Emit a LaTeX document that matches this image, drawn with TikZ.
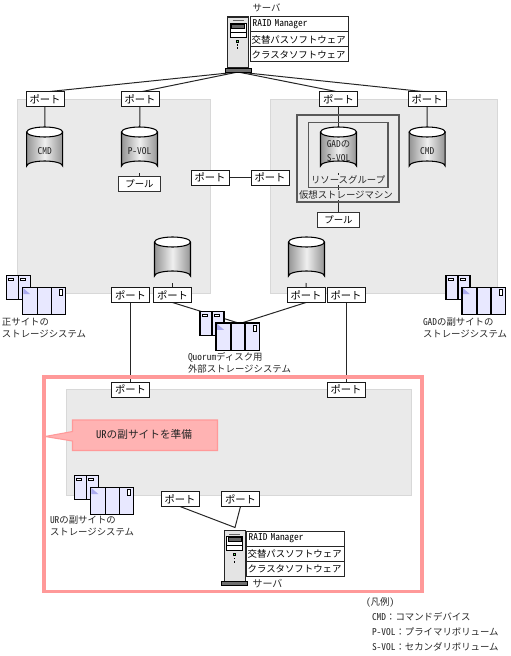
\documentclass[tikz,border=0pt]{standalone}
\usepackage{fontspec}
\setmainfont{Noto Sans CJK JP}
\newfontfamily\halffont[CharacterWidth=Half]{Noto Sans CJK JP}
\newcommand{\lat}[1]{{\halffont #1}}
\usetikzlibrary{backgrounds}
\definecolor{panelgray}{HTML}{EAEAEA}
\definecolor{paneledge}{HTML}{D8D8D8}
\definecolor{pinkedge}{HTML}{FF9999}
\definecolor{pinkfill}{HTML}{FFB3B3}
\definecolor{unitfill}{HTML}{E8E8FF}
\definecolor{unitmark}{HTML}{AAAAEE}
\definecolor{towerfill}{HTML}{E4E4E4}
\definecolor{basefill}{HTML}{707070}
\tikzset{
  every node/.style={font=\fontsize{7.05pt}{9pt}\selectfont,inner sep=0pt,outer sep=0pt},
  portbox/.style={draw=black!90,fill=white,line width=0.75pt,minimum width=28.5pt,minimum height=11.25pt,font=\fontsize{7.75pt}{9pt}\selectfont},
  poolbox/.style={draw=black!80,fill=white,line width=0.75pt,minimum width=31pt,minimum height=11.25pt},
  rowbox/.style={draw=black!85,fill=white,line width=0.75pt,minimum width=73.5pt,minimum height=11.25pt,anchor=north west,align=left,text width=71pt},
  label/.style={anchor=west,text=black!85},
  boxlabel/.style={label,fill=panelgray,text height=5.8pt,text depth=1pt},
  wire/.style={draw=black!85,line width=0.75pt},
  panel/.style={draw=paneledge,fill=panelgray,line width=0.75pt},
  groupbox/.style={draw=black!65,line width=1.1pt},
  cylbody/.style={minimum width=27pt,minimum height=33pt,align=center,text=black!85}
}
% cylinder: name, centre x, top y, text
\newcommand{\cylat}[4]{%
  \path[left color=black!42,right color=black!42,middle color=black!6]
    (#2-18,#3+5) -- (#2-18,#3+39) arc[start angle=180,end angle=360,x radius=18,y radius=5]
    -- (#2+18,#3+5) arc[start angle=0,end angle=180,x radius=18,y radius=5] -- cycle;
  \draw[black,line width=0.8pt,fill=white] (#2,#3+5) ellipse[x radius=18,y radius=5];
  \draw[black,line width=0.8pt] (#2-18,#3+5) -- (#2-18,#3+39) arc[start angle=180,end angle=360,x radius=18,y radius=5] -- (#2+18,#3+5);
  \node[cylbody] (#1) at (#2,#3+24) {#4};}
% server tower: name, left x, top y
\newcommand{\towerat}[3]{%
  \draw[black!85,fill=towerfill,line width=0.8pt] (#2,#3) rectangle (#2+21,#3+51);
  \draw[black!60,line width=0.6pt] (#2+5,#3+3.5) -- (#2+16,#3+3.5);
  \draw[black,fill=white,line width=0.6pt] (#2+2.5,#3+6) rectangle (#2+18.5,#3+20);
  \draw[black,fill=black!60,line width=0.5pt] (#2+4,#3+7) rectangle (#2+17,#3+11);
  \draw[black,line width=0.5pt] (#2+2.5,#3+15) -- (#2+18.5,#3+15);
  \draw[black,fill=green!60!white,line width=0.4pt] (#2+9,#3+23) rectangle (#2+11,#3+25);
  \fill[black] (#2+9.2,#3+27) rectangle (#2+10.8,#3+28.6);
  \fill[black] (#2+9.2,#3+30.4) rectangle (#2+10.8,#3+32);
  \node[draw=black,fill=basefill,line width=0.7pt,minimum width=19.5pt,minimum height=3pt] (#1) at (#2+10.5,#3+53) {};}
% storage: name, left x, top y
\newcommand{\storageat}[3]{%
  \draw[black,fill=unitfill,line width=0.8pt] (#2,#3) rectangle (#2+24,#3+24);
  \draw[black,line width=0.8pt] (#2+12,#3) -- (#2+12,#3+24);
  \draw[black,fill=white,line width=0.6pt] (#2+2,#3+3) rectangle (#2+7,#3+5);
  \draw[black,fill=white,line width=0.6pt] (#2+14,#3+3) rectangle (#2+19,#3+5);
  \node[draw=black,fill=unitfill,line width=0.8pt,minimum width=32.6pt,minimum height=20.4pt,anchor=north west] (#1) at (#2+16,#3+11.7) {};
  \fill[unitmark] (#2+17,#3+12.5) -- (#2+24,#3+18.5) -- (#2+17,#3+18.5) -- cycle;
  \draw[black,line width=0.8pt] (#2+31,#3+11.7) -- (#2+31,#3+39);
  \draw[black,line width=0.8pt] (#2+45,#3+11.7) -- (#2+45,#3+39);
  \draw[black,fill=white,line width=0.6pt] (#2+53,#3+14) rectangle (#2+56.5,#3+20);}
\begin{document}
\begin{tikzpicture}[x=0.75pt,y=-0.75pt]
\useasboundingbox (0,0) rectangle (510,656);
\begin{pgfonlayer}{background}
  \path[panel] (17,99.5) rectangle (210,293);
  \path[panel] (270.5,99.5) rectangle (497.5,293);
  \path[panel] (66,389) rectangle (411,495);
\end{pgfonlayer}

% top server
\towerat{srvtop}{227.5}{17}
\node[rowbox] (ra) at (250,17) {\hspace{0.75pt}\lat{RAID Manager}};
\node[rowbox] (rb) at (250,32) {交替パスソフトウェア};
\node[rowbox] (rc) at (250,47) {クラスタソフトウェア};
\node[label] (srvtoplbl) at (252.5,8) {サーバ};

% ports
\node[portbox] (p1) at (45,99.5) {ポート};
\node[portbox] (p2) at (140,99.5) {ポート};
\node[portbox] (p3) at (338.5,99.5) {ポート};
\node[portbox] (p4) at (427,99.5) {ポート};
\node[portbox] (pc1) at (210,177.5) {ポート};
\node[portbox] (pc2) at (270,177.5) {ポート};
\node[portbox] (p5) at (130.5,295) {ポート};
\node[portbox] (p6) at (172.5,295) {ポート};
\node[portbox] (p7) at (306,295) {ポート};
\node[portbox] (p8) at (346,295) {ポート};
\node[portbox] (p9) at (130.5,389.5) {ポート};
\node[portbox] (p10) at (346,389.5) {ポート};
\node[portbox] (p11) at (180,499) {ポート};
\node[portbox] (p12) at (240.5,499) {ポート};

% virtual storage boxes
\node[groupbox,minimum width=76.5pt,minimum height=65.25pt] (vsm) at (348,158.5) {};
\node[groupbox,minimum width=59.5pt,minimum height=48.75pt] (rg) at (348.2,155) {};
\node[boxlabel] (rglbl) at (311,180) {リソースグループ};
\node[boxlabel] (vsmlbl) at (299,195) {仮想ストレージマシン};

% cylinders
\cylat{c1}{44.7}{127}{\lat{CMD}}
\cylat{c2}{139.5}{127}{\lat{P-VOL}}
\cylat{c3}{338.5}{127}{\lat{GAD}の\\[1.5pt]\lat{S-VOL}}
\cylat{c4}{427.2}{127}{\lat{CMD}}
\cylat{c5}{172.5}{237}{}
\cylat{c6}{306.5}{237}{}

% pools
\node[poolbox] (pl1) at (139.5,184.2) {プール};
\node[poolbox] (pl2) at (338.5,219.5) {プール};

% storages
\storageat{st1}{6.3}{275.7}
\storageat{st2}{446}{275.7}
\storageat{st3}{200}{311.3}
\storageat{st4}{74.3}{475.5}
\node[label] (l1a) at (2,322) {正サイトの};
\node[label] (l1b) at (2,334) {ストレージシステム};
\node[label] (l2a) at (423,322) {\lat{GAD}の副サイトの};
\node[label] (l2b) at (423,334) {ストレージシステム};
\node[label] (l3a) at (188,357) {\lat{Quorum}ディスク用};
\node[label] (l3b) at (188,368.5) {外部ストレージシステム};
\node[label] (l4a) at (50,520) {\lat{UR}の副サイトの};
\node[label] (l4b) at (50,532) {ストレージシステム};

% pink frame and callout
\node[draw=pinkedge,line width=2.3pt,minimum width=283.5pt,minimum height=161pt,anchor=north west] (frame) at (44,377) {};
\coordinate (tip) at (45,436.5);
\draw[pinkedge,fill=pinkfill,line width=0.8pt] (72.5,420) -- (217.5,420) -- (217.5,450.5) -- (72.5,450.5) -- (72.5,441) -- (tip) -- (72.5,431.5) -- cycle;
\node[text=black!85,font=\fontsize{8pt}{9pt}\selectfont] (calltext) at (144,434) {\lat{UR}の副サイトを準備};

% bottom server
\towerat{srvbot}{224.3}{530.5}
\node[rowbox] (rd) at (246,531) {\hspace{0.75pt}\lat{RAID Manager}};
\node[rowbox] (re) at (246,546) {交替パスソフトウェア};
\node[rowbox] (rf) at (246,561) {クラスタソフトウェア};
\node[label,font=\fontsize{7.5pt}{9pt}\selectfont] (srvbotlbl) at (252.5,584) {サーバ};

% legend
\node[label] (lg0) at (366,602) {\lat{(}凡例\lat{)}};
\node[label] (lg1) at (372,617) {\lat{CMD}：コマンドデバイス};
\node[label] (lg2) at (372,632) {\lat{P-VOL}：プライマリボリューム};
\node[label] (lg3) at (372,647) {\lat{S-VOL}：セカンダリボリューム};

% connectors
\coordinate (hub) at (240,323.5);
\coordinate (kink) at (235,527.5);
\begin{pgfonlayer}{background}
  \draw[wire] (srvtop.south) -- (p1.north);
  \draw[wire] (srvtop.south) -- (p2.north);
  \draw[wire] (srvtop.south) -- (p3.north);
  \draw[wire] (srvtop.south) -- (p4.north);
  \draw[wire] (p1) -- (c1);
  \draw[wire] (p2) -- (c2);
  \draw[wire] (p3) -- (c3);
  \draw[wire] (p4) -- (c4);
  \draw[wire] (c2) -- (pl1);
  \draw[wire] (c3) -- (pl2);
  \draw[wire] (pc1) -- (pc2);
  \draw[wire] (c5) -- (p6);
  \draw[wire] (c6) -- (p7);
  \draw[wire] (p6.south) -- (hub);
  \draw[wire] (p7.south) -- (hub);
  \draw[wire] (p5) -- (p9);
  \draw[wire] (p8) -- (p10);
  \draw[wire] (p11.south) -- (kink) -- (p12.south);
\end{pgfonlayer}
\end{tikzpicture}
\end{document}
